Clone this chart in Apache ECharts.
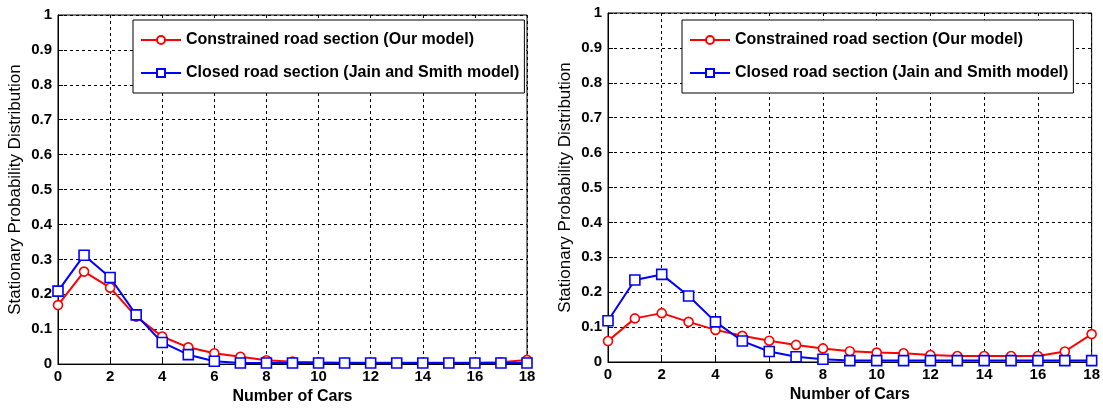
<!DOCTYPE html>
<html>
<head>
<meta charset="utf-8">
<script src="https://cdn.jsdelivr.net/npm/echarts@6/dist/echarts.min.js"></script>
<style>
html,body{margin:0;padding:0;background:#fff;}
#c{width:1103px;height:410px;}
</style>
</head>
<body>
<div id="c"></div>
<script>
const cars = [0,1,2,3,4,5,6,7,8,9,10,11,12,13,14,15,16,17,18];
const xTicks = [0,2,4,6,8,10,12,14,16,18];
const yTicks = [0,0.1,0.2,0.3,0.4,0.5,0.6,0.7,0.8,0.9,1];
const nameRed = 'Constrained road section (Our model)';
const nameBlue = 'Closed road section (Jain and Smith model)';
const leftRed  = [0.169,0.265,0.219,0.136,0.079,0.048,0.031,0.021,0.011,0.007,0.005,0.004,0.004,0.004,0.004,0.004,0.004,0.005,0.012];
const leftBlue = [0.209,0.312,0.248,0.141,0.062,0.027,0.008,0.003,0.003,0.003,0.003,0.003,0.003,0.003,0.003,0.003,0.003,0.003,0.003];
const rightRed  = [0.060,0.125,0.140,0.115,0.092,0.075,0.061,0.049,0.039,0.031,0.027,0.025,0.020,0.017,0.017,0.017,0.017,0.030,0.080];
const rightBlue = [0.118,0.235,0.251,0.189,0.115,0.060,0.030,0.015,0.008,0.004,0.004,0.004,0.004,0.004,0.004,0.004,0.004,0.004,0.004];

const FONT = '"Liberation Sans", Arial, sans-serif';
const chart = echarts.init(document.getElementById('c'), null, {renderer:'canvas'});

function xAxisDef(gi){
  return {
    gridIndex: gi, type:'value', min:0, max:18, interval:2,
    name:'Number of Cars', nameLocation:'middle', nameGap:22,
    nameTextStyle:{fontFamily:FONT, fontWeight:'bold', fontSize:16, color:'#000'},
    axisLine:{show:true, onZero:false, lineStyle:{color:'#000', width:1}},
    axisTick:{show:true, inside:true, length:5, lineStyle:{color:'#000'}},
    axisLabel:{fontFamily:FONT, fontWeight:'bold', fontSize:15, color:'#000', margin:5,
      formatter: v => xTicks.includes(v) ? String(v) : ''},
    splitLine:{show:true, lineStyle:{color:'#000', type:[3,3], width:1}}
  };
}
function yAxisDef(gi){
  return {
    gridIndex: gi, type:'value', min:0, max:1, interval:0.1,
    name:'Stationary Probability Distribution', nameLocation:'middle', nameGap:34,
    nameTextStyle:{fontFamily:FONT, fontSize:17, color:'#000'},
    axisLine:{show:true, lineStyle:{color:'#000', width:1}},
    axisTick:{show:true, inside:true, length:5, lineStyle:{color:'#000'}},
    axisLabel:{fontFamily:FONT, fontWeight:'bold', fontSize:15, color:'#000', margin:6,
      formatter: v => { const r = Math.round(v*10)/10; return yTicks.includes(r) ? String(r) : ''; }},
    splitLine:{show:true, lineStyle:{color:'#000', type:[3,3], width:1}}
  };
}
function series(name, vals, color, symbol, size, gi){
  return {
    name, type:'line', xAxisIndex:gi, yAxisIndex:gi,
    data: cars.map((c,i)=>[c, vals[i]]),
    symbol, symbolSize:size, showAllSymbol:true,
    itemStyle:{color:'#fff', borderColor:color, borderWidth:1.6},
    lineStyle:{color, width:2},
    emphasis:{disabled:true}, animation:false, z: name===nameBlue?3:2
  };
}
function legendDef(left, top, seriesNames){
  return {
    left, top, orient:'vertical', itemWidth:40, itemHeight:10, itemGap:15,
    borderColor:'#000', borderWidth:1, padding:[11,5,11,7], backgroundColor:'#fff',
    textStyle:{fontFamily:FONT, fontWeight:'bold', fontSize:16, lineHeight:18, color:'#000'},
    data: seriesNames, selectedMode:false
  };
}
chart.setOption({
  animation:false,
  grid:[
    {left:58, top:15, width:469, height:350, show:true, borderColor:'#000', borderWidth:1, backgroundColor:'#fff'},
    {left:608, top:13, width:484, height:349, show:true, borderColor:'#000', borderWidth:1, backgroundColor:'#fff'}
  ],
  xAxis:[xAxisDef(0), xAxisDef(1)],
  yAxis:[yAxisDef(0), yAxisDef(1)],
  legend:[
    legendDef(133, 20, [nameRed, nameBlue]),
    legendDef(682, 20, [nameRed, nameBlue])
  ],
  series:[
    series(nameRed, leftRed, '#ff0000', 'circle', 9, 0),
    series(nameBlue, leftBlue, '#0000ff', 'rect', 10, 0),
    series(nameRed, rightRed, '#ff0000', 'circle', 9, 1),
    series(nameBlue, rightBlue, '#0000ff', 'rect', 10, 1)
  ]
});
</script>
</body>
</html>
